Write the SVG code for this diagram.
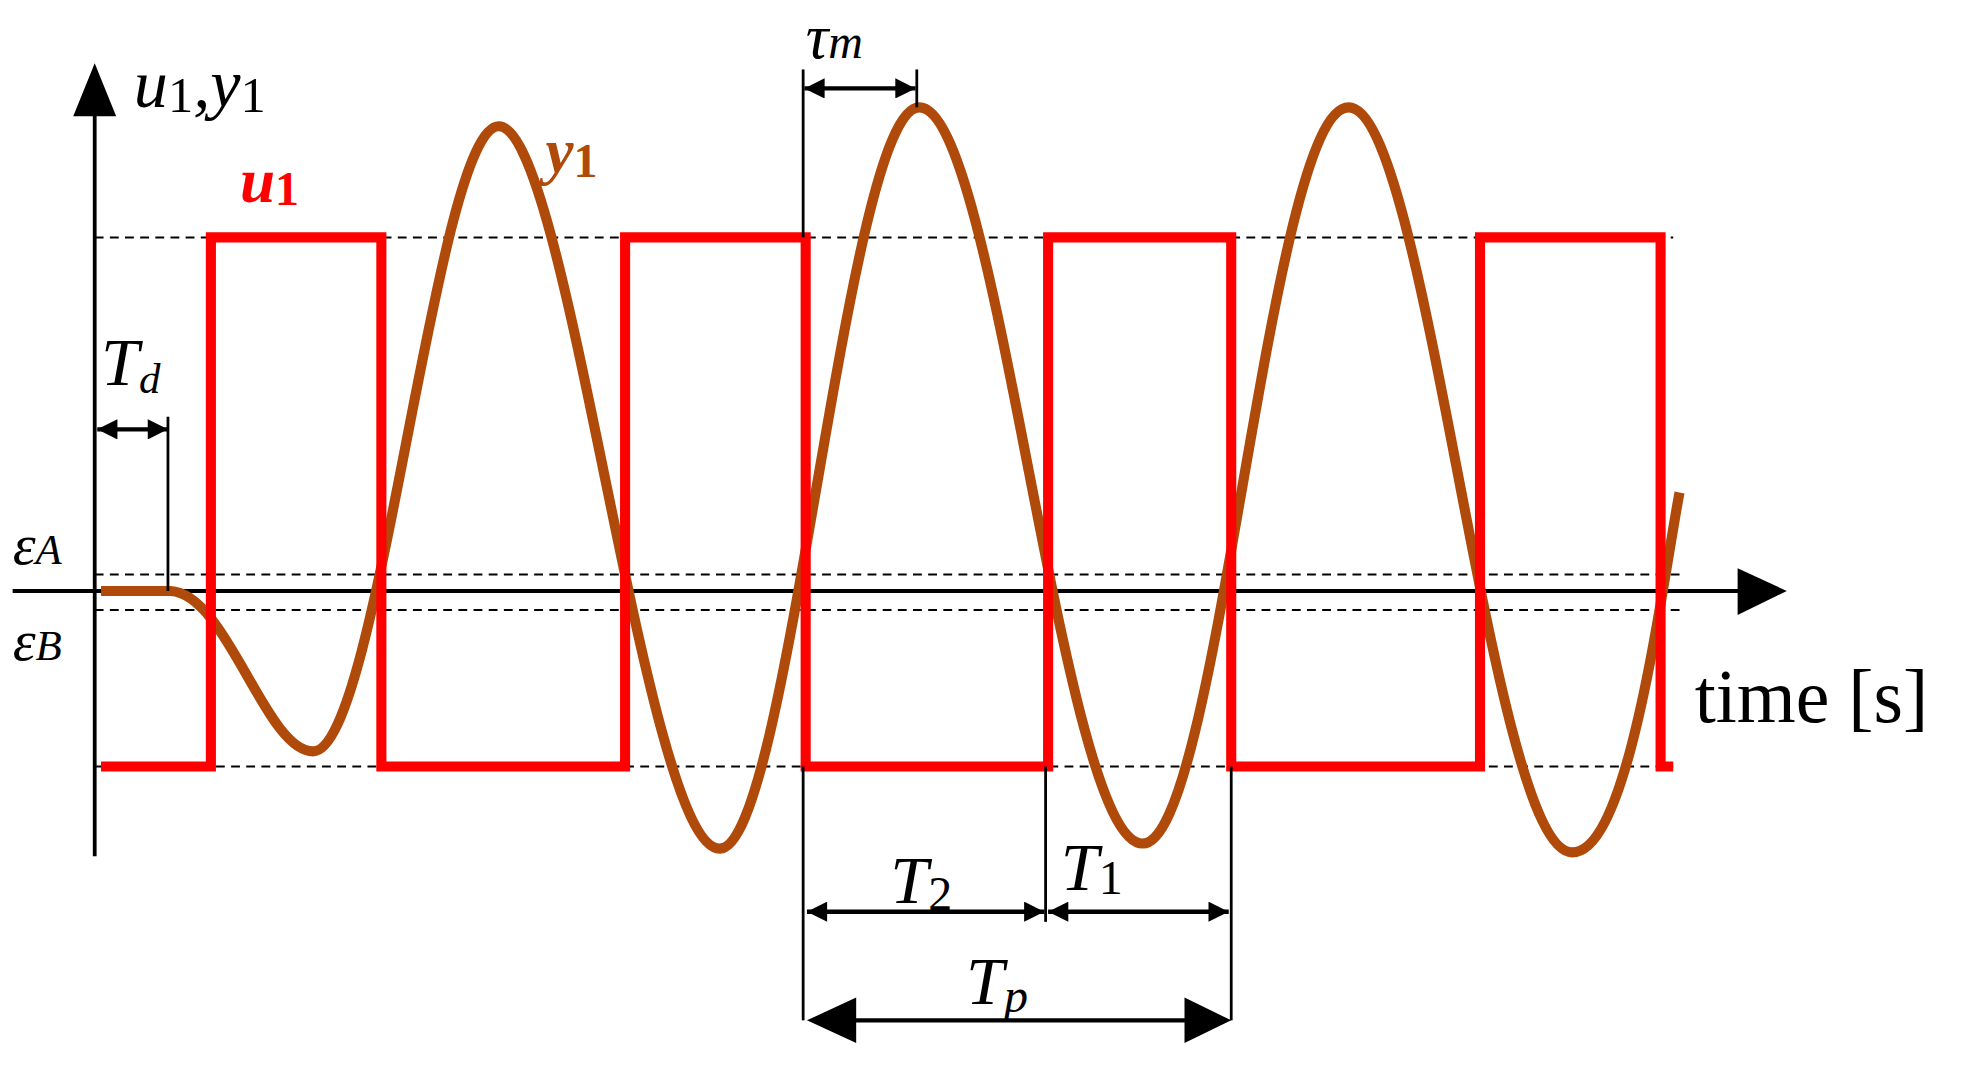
<svg xmlns="http://www.w3.org/2000/svg" width="1980" height="1065" viewBox="0 0 1980 1065">
<defs>
<marker id="ah" viewBox="0 0 10 10" refX="10" refY="5" markerWidth="18" markerHeight="16" orient="auto-start-reverse" markerUnits="userSpaceOnUse"><path d="M0,0 L10,5 L0,10 Z" fill="#000"/></marker>
</defs>
<style>
.ax{stroke:#000;stroke-width:3;fill:none}
.dash{stroke:#000;stroke-width:1.6;stroke-dasharray:7 5;fill:none}
.thin{stroke:#000;stroke-width:2.2;fill:none}
.dim{stroke:#000;stroke-width:3.5;fill:none}
.lbl{font-family:"Liberation Serif",serif;font-style:italic;fill:#000}
</style>
<rect width="1980" height="1065" fill="#fff"/>
<g transform="scale(1.2628)">
<g id="axes">
<line class="ax" x1="75" y1="85" x2="75" y2="678"/>
<path d="M58,92 L75,50 L92,92 Z" fill="#000"/>
<line class="ax" x1="10" y1="468" x2="1380" y2="468"/>
<path d="M1376,450 L1415,468 L1376,487 Z" fill="#000"/>
</g>
<g id="levels">
<line class="dash" x1="75" y1="188" x2="1325" y2="188"/>
<line class="dash" x1="75" y1="607" x2="1325" y2="607"/>
<line class="dash" x1="75" y1="455" x2="1330" y2="455"/>
<line class="dash" x1="75" y1="483" x2="1330" y2="483"/>
</g>
<g id="y1">
<path d="M80,468 L135,468 C180,470 210,595 248,595 C300,595 345,100 395,100 C450,100 510,672 570,672 C625,672 670,85 728,85 C790,85 840,668 905,668 C965,668 1005,85 1068,85 C1130,85 1180,675 1245,675 C1290,675 1315,470 1330,390" fill="none" stroke="#b04a0a" stroke-width="8"/>
</g>
<g id="u1">
<path d="M80,607 H167 V188 H302 V607 H495 V188 H638 V607 H830 V188 H975 V607 H1172 V188 H1315 V607 H1325" fill="none" stroke="#ff0000" stroke-width="8"/>
</g>
<g id="connectors">
<line class="thin" x1="133" y1="330" x2="133" y2="468"/>
<line class="dim" x1="77" y1="340" x2="133" y2="340" marker-start="url(#ah)" marker-end="url(#ah)"/>
<line class="thin" x1="636" y1="55" x2="636" y2="188"/>
<line class="thin" x1="726" y1="55" x2="726" y2="85"/>
<line class="dim" x1="637" y1="70" x2="725" y2="70" marker-start="url(#ah)" marker-end="url(#ah)"/>
<line class="thin" x1="636" y1="607" x2="636" y2="808"/>
<line class="thin" x1="828" y1="607" x2="828" y2="730"/>
<line class="thin" x1="975" y1="607" x2="975" y2="808"/>
<line class="dim" x1="639" y1="722" x2="827" y2="722" marker-start="url(#ah)" marker-end="url(#ah)"/>
<line class="dim" x1="830" y1="722" x2="973" y2="722" marker-start="url(#ah)" marker-end="url(#ah)"/>
<line x1="675" y1="808" x2="940" y2="808" stroke="#000" stroke-width="3.5"/>
<path d="M639,808 L678,790 L678,826 Z M975,808 L938,790 L938,826 Z" fill="#000"/>
</g>
<g id="labels">
<text class="lbl" x="106" y="85" font-size="54">u<tspan font-style="normal" font-size="40" dy="4">1</tspan><tspan dy="-4">,y</tspan><tspan font-style="normal" font-size="40" dy="4">1</tspan></text>
<text x="190" y="160" font-size="50" font-weight="bold" font-style="italic" font-family="Liberation Serif,serif" fill="#ff0000">u<tspan font-style="normal" font-size="38" dy="2">1</tspan></text>
<text x="432" y="136" font-size="50" font-weight="bold" font-style="italic" font-family="Liberation Serif,serif" fill="#b04a0a">y<tspan font-style="normal" font-size="38" dy="4">1</tspan></text>
<text class="lbl" x="80" y="305" font-size="54">T<tspan font-size="34" dy="6">d</tspan></text>
<text class="lbl" x="638" y="46" font-size="50">τ<tspan font-size="38">m</tspan></text>
<text class="lbl" x="10" y="447" font-size="46">ε<tspan font-size="34">A</tspan></text>
<text class="lbl" x="10" y="523" font-size="46">ε<tspan font-size="34">B</tspan></text>
<text class="lbl" x="705" y="715" font-size="54">T<tspan font-style="normal" font-size="38" dy="6">2</tspan></text>
<text class="lbl" x="840" y="705" font-size="54">T<tspan font-style="normal" font-size="38" dy="3">1</tspan></text>
<text class="lbl" x="765" y="795" font-size="54">T<tspan font-size="38" dy="6">p</tspan></text>
<text x="1342" y="572" font-size="60" font-family="Liberation Serif,serif" fill="#000">time [s]</text>
</g>
</g>
</svg>
